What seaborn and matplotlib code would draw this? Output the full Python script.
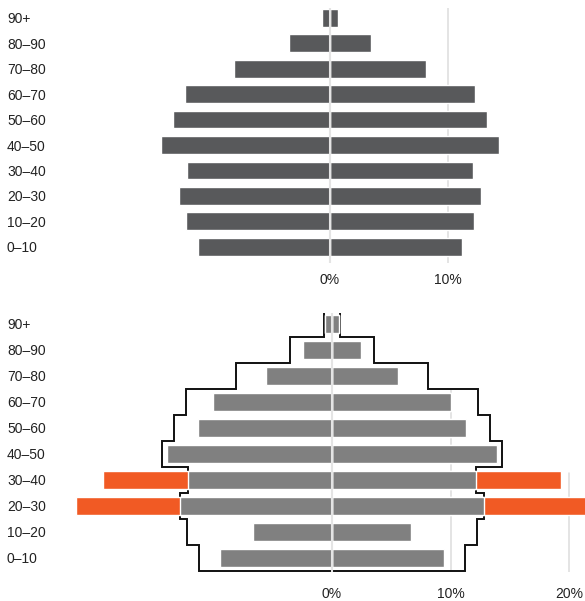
import numpy as np
import pandas as pd
import matplotlib
matplotlib.use("Agg")
import matplotlib.pyplot as plt
import seaborn as sns

# age groups, top of the pyramid first
age_groups = ["90+", "80–90", "70–80", "60–70", "50–60", "40–50", "30–40", "20–30", "10–20", "0–10"]
# share of population per side (%)
top_share = [0.7, 3.5, 8.1, 12.3, 13.3, 14.3, 12.1, 12.8, 12.2, 11.2]
bottom_share = [0.55, 2.47, 5.58, 10.0, 11.33, 13.86, 19.27, 21.6, 6.68, 9.47]
top_ticks = [0, 10]
bottom_ticks = [0, 10, 20]

DARK = "#58595b"
GRAY = "#808080"
ORANGE = "#f15a24"
GRID = "#dddddd"
ZERO = "#e4e4e4"
TEXT = "#222222"

sns.set_style("white")
plt.rcParams["font.family"] = ["Liberation Sans", "DejaVu Sans"]

W, H = 585, 601
fig = plt.figure(figsize=(W / 100, H / 100), dpi=100)


def axes_px(top, bottom):
    return fig.add_axes([0, 1 - bottom / H, 1, (bottom - top) / H])


ax1 = axes_px(8, 263)
ax2 = axes_px(312.7, 571.7)

top_df = pd.DataFrame({"age": age_groups, "share": top_share})
bot_df = pd.DataFrame({"age": age_groups, "share": bottom_share})
bot_df["common"] = np.minimum(bot_df["share"], top_df["share"])

# top pyramid
for sign in (1, -1):
    sns.barplot(x=sign * top_df["share"], y=top_df["age"], orient="h", color=DARK,
                saturation=1, width=0.7, ax=ax1, zorder=2)
ax1.axvline(10, color=GRID, lw=1.1, zorder=1)

# bottom pyramid: excess in orange, overlap with top in gray
for sign in (1, -1):
    sns.barplot(x=sign * bot_df["share"], y=bot_df["age"], orient="h", color=ORANGE,
                saturation=1, width=0.7, ax=ax2, zorder=2)
    sns.barplot(x=sign * bot_df["common"], y=bot_df["age"], orient="h", color=GRAY,
                saturation=1, width=0.7, ax=ax2, zorder=2)

# outline of the top pyramid
v = np.array(top_share)
idx = np.arange(len(v))
right_y = np.ravel(np.column_stack([idx - 0.5, idx + 0.5]))
right_x = np.repeat(v, 2)
xs = np.concatenate([right_x, -right_x[::-1], right_x[:1]])
ys = np.concatenate([right_y, right_y[::-1], right_y[:1]])
ax2.plot(xs, ys, color="#111111", lw=1.4, zorder=1.5, solid_joinstyle="miter")

ax2.axvline(10, ymin=0, ymax=0.7015, color=GRID, lw=1.1, zorder=1)
ax2.axvline(20, ymin=0, ymax=0.382, color=GRID, lw=1.1, zorder=1)

for ax in (ax1, ax2):
    ax.axvline(0, color=ZERO, lw=1.5, zorder=3)
    sns.despine(ax=ax, left=True, bottom=True)
    ax.set_xlabel("")
    ax.set_ylabel("")
    ax.tick_params(axis="y", length=0, pad=-5, labelsize=10, labelcolor=TEXT)
    for lab in ax.get_yticklabels():
        lab.set_ha("left")

ax1.set_xlim(-330 / 11.8, 255 / 11.8)
ax1.set_ylim(9 + 0.637, -0.385)
ax2.set_xlim(-332 / 11.87, 253 / 11.87)
ax2.set_ylim(9 + 0.538, -0.427)

ax1.set_xticks(top_ticks)
ax1.set_xticklabels([f"{t}%" for t in top_ticks])
ax2.set_xticks(bottom_ticks)
ax2.set_xticklabels([f"{t}%" for t in bottom_ticks])
ax1.tick_params(axis="x", length=0, pad=7.5, labelsize=10, labelcolor=TEXT)
ax2.tick_params(axis="x", length=0, pad=11, labelsize=10, labelcolor=TEXT)

fig.savefig("out.png", dpi=100)
